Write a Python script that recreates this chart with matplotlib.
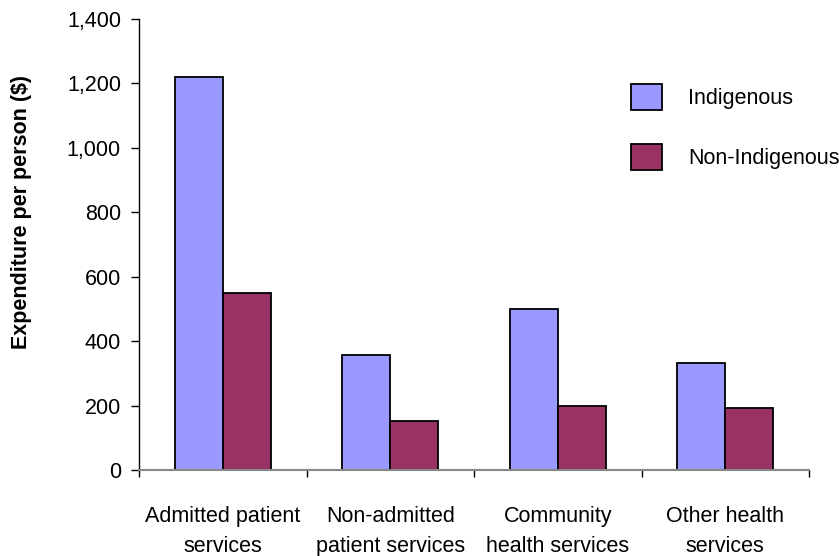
import numpy as np
import matplotlib
matplotlib.use("Agg")
import matplotlib.pyplot as plt
from matplotlib.ticker import FuncFormatter

categories = ["Admitted patient\nservices", "Non-admitted\npatient services",
              "Community\nhealth services", "Other health\nservices"]
indigenous = [1220, 356, 500, 332]
non_indigenous = [548, 152, 200, 193]

plt.rcParams['font.family'] = ['Liberation Sans', 'DejaVu Sans']
FS = 15.5

W, H = 839, 556
fig = plt.figure(figsize=(W / 100, H / 100), dpi=100)
ax = fig.add_axes([139 / W, 1 - 470 / H, (809 - 139) / W, (470 - 19) / H])

x = np.arange(len(categories))
bw = 0.287
b1 = ax.bar(x - bw / 2, indigenous, bw, color='#9999FF', edgecolor='black',
            linewidth=1.3, label='Indigenous')
b2 = ax.bar(x + bw / 2, non_indigenous, bw, color='#993366', edgecolor='black',
            linewidth=1.3, label='Non-Indigenous')

ax.set_xlim(-0.5, len(categories) - 0.5)
ax.set_ylim(0, 1400)
ax.set_yticks(np.arange(0, 1401, 200))
ax.yaxis.set_major_formatter(FuncFormatter(lambda v, p: f"{int(v):,}"))
ax.tick_params(axis='y', direction='out', length=6, width=1, pad=7, labelsize=FS)

ax.set_xticks(x)
ax.set_xticklabels(categories, linespacing=1.55)
ax.set_xticks(np.arange(-0.5, len(categories), 1.0), minor=True)
ax.tick_params(axis='x', which='major', length=0, pad=26, labelsize=FS)
ax.tick_params(axis='x', which='minor', direction='out', length=5, width=1)

for s in ['top', 'right']:
    ax.spines[s].set_visible(False)
ax.spines['bottom'].set_color('#888888')
ax.spines['bottom'].set_linewidth(1.5)
ax.spines['left'].set_linewidth(1)

fig.text(22 / W, 1 - 212 / H, "Expenditure per person ($)", rotation=90,
         ha='center', va='center', fontsize=FS, fontweight='bold')

ax.legend(handles=[b1, b2], loc='upper left', frameon=False,
          bbox_to_anchor=(631 / W, 1 - 84 / H), bbox_transform=fig.transFigure,
          borderaxespad=0, borderpad=0, fontsize=FS,
          handlelength=1.45, handleheight=1.45, handletextpad=1.2, labelspacing=1.6)

fig.savefig("out.png", dpi=100)
